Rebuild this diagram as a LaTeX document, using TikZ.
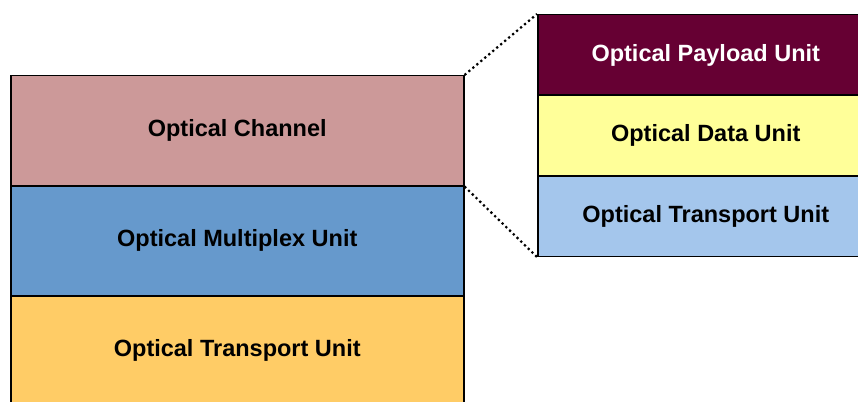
\documentclass[tikz,border=0pt]{standalone}
\usepackage{fontspec}
\setmainfont{Liberation Sans}
\usepackage{xcolor}
\definecolor{chColor}{RGB}{204,153,153}
\definecolor{muxColor}{RGB}{102,153,204}
\definecolor{otuColor}{RGB}{255,204,102}
\definecolor{opuColor}{RGB}{102,0,51}
\definecolor{oduColor}{RGB}{255,255,153}
\definecolor{otuRColor}{RGB}{164,198,236}
\usepackage{tikz}

\begin{document}
\begin{tikzpicture}[x=1pt,y=-1pt,line width=1.5pt,
  layer/.style={draw,rectangle,anchor=north west,inner sep=0pt,
    font=\fontsize{23.5}{26}\selectfont\bfseries},
  bigLayer/.style={layer,minimum width=453pt,minimum height=110pt},
  smallLayer/.style={layer,minimum width=336pt,minimum height=80.5pt},
  zoomLine/.style={dash pattern=on 2.2pt off 3pt,line width=2.2pt}]
\clip (0,0) rectangle (858,401);
% left stack
\node[bigLayer,fill=chColor] (och) at (10,75) {Optical Channel};
\node[bigLayer,fill=muxColor] (omu) at (10,185) {Optical Multiplex Unit};
\node[bigLayer,fill=otuColor] (otu) at (10,295) {Optical Transport Unit};
% right stack
\node[smallLayer,fill=opuColor,text=white] (opu) at (537,14) {Optical Payload Unit};
\node[smallLayer,fill=oduColor] (odu) at (537,94.5) {Optical Data Unit};
\node[smallLayer,fill=otuRColor] (otuR) at (537,175) {Optical Transport Unit};
%
\draw[zoomLine] (och.north east) -- (opu.north west);
\draw[zoomLine] (och.south east) -- (otuR.south west);
\end{tikzpicture}
\end{document}
